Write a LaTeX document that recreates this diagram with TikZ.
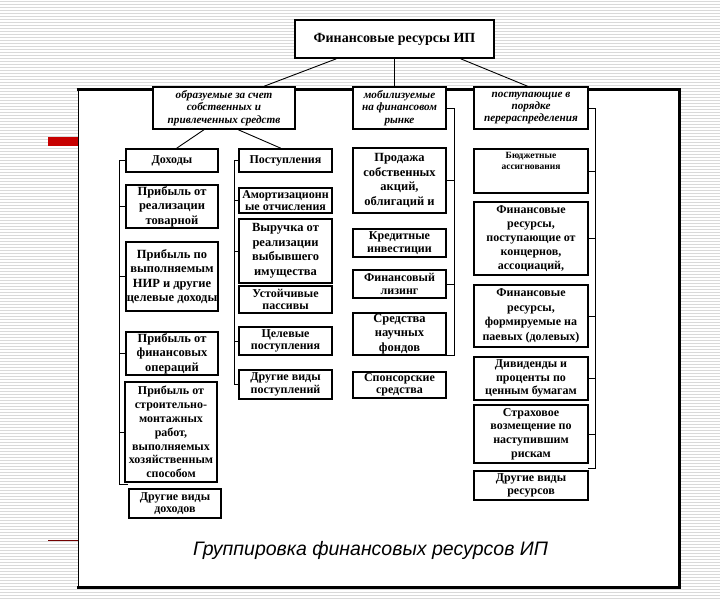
\documentclass[tikz,border=0pt]{standalone}
\usepackage{fontspec}
\setmainfont{Liberation Serif}
\setsansfont{Liberation Sans}
\usetikzlibrary{calc}
\begin{document}
\begin{tikzpicture}[x=1pt,y=-1pt,
  bx/.style={draw=black, line width=1.6pt, fill=white, align=center, inner sep=0pt,
    font=\bfseries\fontsize{12.5}{14.5}\selectfont},
  tight/.style={font=\bfseries\fontsize{12}{12.5}\selectfont},
  small/.style={font=\bfseries\fontsize{12}{13.8}\selectfont},
  cat/.style={bx, font=\bfseries\itshape\fontsize{11.2}{12.2}\selectfont},
  link/.style={draw=black, line width=0.9pt},
  brk/.style={draw=black, line width=0.8pt},
  stripe/.style={draw=gray!30, line width=1pt},
  panel/.style={fill=white},
  rim/.style={draw=black, line width=3pt},
  thinrim/.style={draw=black, line width=0.8pt},
  accent/.style={fill=red!78!black},
  accentline/.style={draw=red!45!black, line width=0.9pt},
  caption/.style={font=\sffamily\itshape\fontsize{19.5}{22}\selectfont}]
\useasboundingbox (0,0) rectangle (720,600);
% background stripes
\fill[white] (0,0) rectangle (720,600);
\foreach \y in {1.5,4.5,...,600} \draw[stripe] (0,\y) -- (720,\y);
% slide accents
\fill[accent] (48,137) rectangle (78,146);
\draw[accentline] (48,540) -- (78,540);
% panel
\fill[panel] (78,89) rectangle (679,587);
\draw[thinrim] (78,89) -- (78,587);
\draw[rim] (76.5,89) -- (679,89) -- (679,587) -- (76.5,587);

% top
\node[bx, font=\bfseries\fontsize{14}{16}\selectfont, minimum width=199, minimum height=38] (top) at (394.5,39) {Финансовые ресурсы ИП};
% categories
\node[cat, minimum width=142, minimum height=42] (c1) at (224,108) {образуемые за счет\\собственных и\\привлеченных средств};
\node[cat, minimum width=93, minimum height=42] (c2) at (399.5,108) {мобилизуемые\\на финансовом\\рынке};
\node[cat, minimum width=114, minimum height=42] (c3) at (531,108) {поступающие в\\порядке\\перераспределения};

% left column
\node[bx, tight, minimum width=92, minimum height=23] (dox) at (172,160.5) {Доходы};
\node[bx, minimum width=92, minimum height=43] (l1) at (172,206.5) {Прибыль от\\реализации\\товарной};
\node[bx, minimum width=92, minimum height=69] (l2) at (172,276.5) {Прибыль по\\выполняемым\\НИР и другие\\целевые доходы};
\node[bx, minimum width=92, minimum height=43] (l3) at (172,353.5) {Прибыль от\\финансовых\\операций};
\node[bx, small, minimum width=92, minimum height=100] (l4) at (171,432) {Прибыль от\\строительно-\\монтажных\\работ,\\выполняемых\\хозяйственным\\способом};
\node[bx, tight, minimum width=92, minimum height=29] (l5) at (175,503.5) {Другие виды\\доходов};

% middle-left column
\node[bx, tight, minimum width=93, minimum height=23] (post) at (285.5,160.5) {Поступления};
\node[bx, tight, minimum width=93, minimum height=25] (m1) at (285.5,200.5) {Амортизационн\\ые отчисления};
\node[bx, minimum width=93, minimum height=64] (m2) at (285.5,251) {Выручка от\\реализации\\выбывшего\\имущества};
\node[bx, tight, minimum width=93, minimum height=27] (m3) at (285.5,299.5) {Устойчивые\\пассивы};
\node[bx, tight, minimum width=93, minimum height=28] (m4) at (285.5,341) {Целевые\\поступления};
\node[bx, tight, minimum width=93, minimum height=29] (m5) at (285.5,384.5) {Другие виды\\поступлений};

% middle column
\node[bx, minimum width=93, minimum height=65] (n1) at (399.5,180.5) {Продажа\\собственных\\акций,\\облигаций и};
\node[bx, tight, minimum width=93, minimum height=28] (n2) at (399.5,243) {Кредитные\\инвестиции};
\node[bx, tight, minimum width=93, minimum height=28] (n3) at (399.5,284) {Финансовый\\лизинг};
\node[bx, minimum width=93, minimum height=42] (n4) at (399.5,334) {Средства\\научных\\фондов};
\node[bx, tight, minimum width=93, minimum height=26] (n5) at (399.5,385) {Спонсорские\\средства};

% right column
\node[bx, font=\bfseries\fontsize{9.5}{11}\selectfont, minimum width=114, minimum height=44] (r1) at (531,171) {Бюджетные\\ассигнования\\[10pt]};
\node[bx, font=\bfseries\fontsize{12}{14}\selectfont, minimum width=114, minimum height=73] (r2) at (531,238.5) {Финансовые\\ресурсы,\\поступающие от\\концернов,\\ассоциаций,};
\node[bx, font=\bfseries\fontsize{12}{14.5}\selectfont, minimum width=114, minimum height=62] (r3) at (531,316) {Финансовые\\ресурсы,\\формируемые на\\паевых (долевых)};
\node[bx, font=\bfseries\fontsize{12}{13.5}\selectfont, minimum width=114, minimum height=43] (r4) at (531,378.5) {Дивиденды и\\проценты по\\ценным бумагам};
\node[bx, font=\bfseries\fontsize{12}{13.8}\selectfont, minimum width=114, minimum height=58] (r5) at (531,434) {Страховое\\возмещение по\\наступившим\\рискам};
\node[bx, tight, minimum width=114, minimum height=29] (r6) at (531,485.5) {Другие виды\\ресурсов};

% caption
\node[caption] (cap) at (370.5,550) {Группировка финансовых ресурсов ИП};

% bracket axes
\coordinate (xL) at (119,0);
\coordinate (xM) at (234,0);
\coordinate (xN) at (454,0);
\coordinate (xR) at (595,0);
\coordinate (lEnd) at (119,484);
\coordinate (rEnd) at (595,468);

% top links
\draw[link] ($(top.south west)!0.21!(top.south east)$) -- ($(c1.north west)!0.78!(c1.north east)$);
\draw[link] (top.south) -- (top.south |- c2.north);
\draw[link] ($(top.south west)!0.83!(top.south east)$) -- ($(c3.north west)!0.47!(c3.north east)$);
% c1 to sub-heads
\draw[link] ($(c1.south west)!0.36!(c1.south east)$) -- ($(dox.north west)!0.55!(dox.north east)$);
\draw[link] ($(c1.south west)!0.60!(c1.south east)$) -- ($(post.north west)!0.45!(post.north east)$);

% left bracket
\draw[brk] (dox.west) -- (dox.west -| xL) -- (lEnd) -- ++(9,0);
\foreach \n in {l1,l2,l3,l4} \draw[brk] (\n.west) -- (\n.west -| xL);
% middle-left bracket
\draw[brk] (post.west) -- (post.west -| xM) -- (xM |- m5.west) -- (m5.west);
\foreach \n in {m1,m2,m4} \draw[brk] (\n.west) -- (\n.west -| xM);
% middle bracket
\draw[brk] (c2.east) -- (c2.east -| xN) -- (xN |- n4.south) -- (n4.south east);
\foreach \n in {n1,n3} \draw[brk] (\n.east) -- (\n.east -| xN);
% right bracket
\draw[brk] (c3.east) -- (c3.east -| xR) -- (rEnd) -- ++(-7,0);
\foreach \n in {r1,r2,r3,r4,r5} \draw[brk] (\n.east) -- (\n.east -| xR);
\end{tikzpicture}
\end{document}
